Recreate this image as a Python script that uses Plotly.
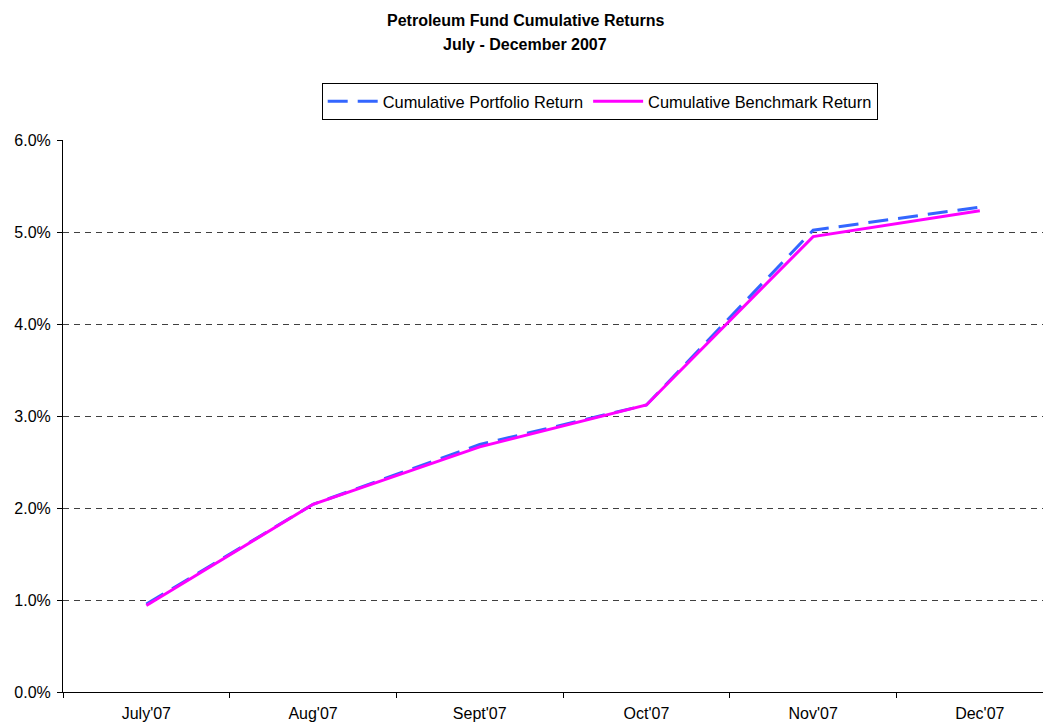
import plotly.graph_objects as go

months = ["July'07", "Aug'07", "Sept'07", "Oct'07", "Nov'07", "Dec'07"]
portfolio = [0.955, 2.04, 2.69, 3.12, 5.02, 5.27]
benchmark = [0.94, 2.04, 2.665, 3.12, 4.95, 5.23]
yticks = [0, 1, 2, 3, 4, 5, 6]
ylabels = ["0.0%", "1.0%", "2.0%", "3.0%", "4.0%", "5.0%", "6.0%"]
title_lines = ["Petroleum Fund Cumulative Returns", "July - December 2007"]

# the page body has an 8px margin; positions below are relative to the figure
W, H = 1043, 717
L, T, B = 55, 132, 33.3
PW, PH = W - L, H - T - B

def px(xw):
    return (xw - 8 - L) / PW

def py(yw):
    return (H - B - (yw - 8)) / PH

fig = go.Figure()
fig.add_trace(go.Scatter(x=months, y=portfolio, mode="lines",
                         name="Cumulative Portfolio Return",
                         line=dict(color="#3366FF", width=3, dash="20px,10px")))
fig.add_trace(go.Scatter(x=months, y=benchmark, mode="lines",
                         name="Cumulative Benchmark Return",
                         line=dict(color="#FF00FF", width=3)))

font = "Liberation Sans, Arial, sans-serif"
for txt, yw in zip(title_lines, [20.5, 44.5]):
    fig.add_annotation(text="<b>" + txt + "</b>", xref="paper", yref="paper",
                       x=px(525), y=py(yw), xanchor="center", yanchor="middle",
                       showarrow=False, font=dict(family=font, size=16, color="black"))

fig.update_layout(
    width=W, height=H,
    margin=dict(l=L, r=0, t=T, b=B, autoexpand=False),
    paper_bgcolor="white", plot_bgcolor="white",
    font=dict(family=font, size=16, color="black"),
    legend=dict(orientation="h", x=px(321.7), xanchor="left",
                y=py(83), yanchor="top",
                bordercolor="black", borderwidth=1,
                font=dict(family=font, size=16.4, color="black"),
                itemwidth=50, tracegroupgap=0),
    showlegend=True,
)
fig.update_xaxes(type="category", range=[-0.5, 5.427], automargin=False,
                 showgrid=False, showline=True, linecolor="black", linewidth=1,
                 ticks="outside", tickson="boundaries", ticklen=5, tickcolor="black",
                 ticklabelstandoff=7,
                 zeroline=False, tickfont=dict(family=font, size=16))
fig.update_yaxes(range=[0, 6], tickvals=yticks, ticktext=ylabels, automargin=False,
                 showgrid=True, gridcolor="#404040", griddash="6px,5px", gridwidth=1,
                 showline=True, linecolor="black", linewidth=1,
                 ticks="outside", ticklen=5, tickcolor="black",
                 ticklabelstandoff=3,
                 zeroline=False, tickfont=dict(family=font, size=16))

fig.write_html("out.html")
